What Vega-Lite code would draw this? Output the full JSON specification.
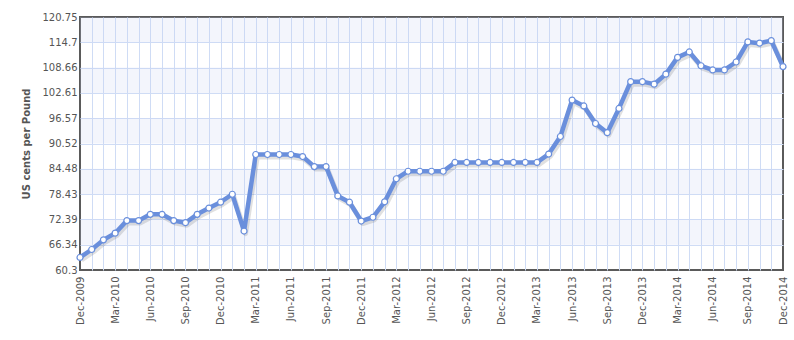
{
  "$schema": "https://vega.github.io/schema/vega-lite/v6.json",
  "autosize": "none",
  "width": 703,
  "height": 253,
  "padding": {"left": 80, "top": 17, "right": 11, "bottom": 70},
  "background": "#ffffff",
  "config": {
    "view": {"stroke": "#5a5a5a", "strokeWidth": 2},
    "axis": {"labelFont": "DejaVu Sans", "labelFontSize": 10, "labelColor": "#555555", "titleFont": "DejaVu Sans", "titleColor": "#555555"},
    "axisY": {"labelOverlap": false}
  },
  "datasets": {
    "bands": [
      {"lo": 66.34, "hi": 72.39},
      {"lo": 78.43, "hi": 84.48},
      {"lo": 90.52, "hi": 96.57},
      {"lo": 102.61, "hi": 108.66},
      {"lo": 114.7, "hi": 120.75}
    ],
    "prices": [
      {"month": "Dec-2009", "price": 63.3},
      {"month": "Jan-2010", "price": 65.2},
      {"month": "Feb-2010", "price": 67.5},
      {"month": "Mar-2010", "price": 69.1},
      {"month": "Apr-2010", "price": 72.1},
      {"month": "May-2010", "price": 72.1},
      {"month": "Jun-2010", "price": 73.6},
      {"month": "Jul-2010", "price": 73.6},
      {"month": "Aug-2010", "price": 72.1},
      {"month": "Sep-2010", "price": 71.6},
      {"month": "Oct-2010", "price": 73.6},
      {"month": "Nov-2010", "price": 75.1},
      {"month": "Dec-2010", "price": 76.5},
      {"month": "Jan-2011", "price": 78.4},
      {"month": "Feb-2011", "price": 69.6},
      {"month": "Mar-2011", "price": 87.9},
      {"month": "Apr-2011", "price": 87.9},
      {"month": "May-2011", "price": 87.9},
      {"month": "Jun-2011", "price": 87.9},
      {"month": "Jul-2011", "price": 87.4},
      {"month": "Aug-2011", "price": 85.0},
      {"month": "Sep-2011", "price": 85.0},
      {"month": "Oct-2011", "price": 78.0},
      {"month": "Nov-2011", "price": 76.5},
      {"month": "Dec-2011", "price": 72.0},
      {"month": "Jan-2012", "price": 72.9},
      {"month": "Feb-2012", "price": 76.6},
      {"month": "Mar-2012", "price": 82.1},
      {"month": "Apr-2012", "price": 83.9},
      {"month": "May-2012", "price": 83.9},
      {"month": "Jun-2012", "price": 83.9},
      {"month": "Jul-2012", "price": 83.9},
      {"month": "Aug-2012", "price": 86.0},
      {"month": "Sep-2012", "price": 86.0},
      {"month": "Oct-2012", "price": 86.0},
      {"month": "Nov-2012", "price": 86.0},
      {"month": "Dec-2012", "price": 86.0},
      {"month": "Jan-2013", "price": 86.0},
      {"month": "Feb-2013", "price": 86.0},
      {"month": "Mar-2013", "price": 86.0},
      {"month": "Apr-2013", "price": 88.0},
      {"month": "May-2013", "price": 92.2},
      {"month": "Jun-2013", "price": 100.9},
      {"month": "Jul-2013", "price": 99.5},
      {"month": "Aug-2013", "price": 95.3},
      {"month": "Sep-2013", "price": 93.1},
      {"month": "Oct-2013", "price": 98.9},
      {"month": "Nov-2013", "price": 105.3},
      {"month": "Dec-2013", "price": 105.3},
      {"month": "Jan-2014", "price": 104.7},
      {"month": "Feb-2014", "price": 107.1},
      {"month": "Mar-2014", "price": 111.1},
      {"month": "Apr-2014", "price": 112.4},
      {"month": "May-2014", "price": 109.1},
      {"month": "Jun-2014", "price": 108.1},
      {"month": "Jul-2014", "price": 108.1},
      {"month": "Aug-2014", "price": 110.0},
      {"month": "Sep-2014", "price": 114.8},
      {"month": "Oct-2014", "price": 114.5},
      {"month": "Nov-2014", "price": 115.1},
      {"month": "Dec-2014", "price": 108.9}
    ]
  },
  "layer": [
    {
      "data": {"name": "bands"},
      "mark": {"type": "rect", "fill": "#c4ccf0", "fillOpacity": 0.2},
      "encoding": {
        "x": {"value": 0},
        "x2": {"value": "width"},
        "y": {
          "field": "lo", "type": "quantitative",
          "scale": {"domain": [60.3, 120.75], "nice": false, "zero": false},
          "axis": {
            "title": "US cents per Pound", "titleFontWeight": "bold", "titleFontSize": 10,
            "titlePadding": 11, "ticks": false, "domain": false, "format": ".2~f",
            "labelOverlap": false, "labelFlush": false, "labelBound": false,
            "values": [60.3, 66.34, 72.39, 78.43, 84.48, 90.52, 96.57, 102.61, 108.66, 114.7, 120.75],
            "grid": true, "gridColor": "#cfdcf5", "labelPadding": 3,
            "gridOpacity": {"condition": {"test": "datum.value <= 60.31 || datum.value >= 120.74", "value": 0}, "value": 1}
          }
        },
        "y2": {"field": "hi"}
      }
    },
    {
      "data": {"name": "prices"},
      "encoding": {
        "x": {
          "field": "month", "type": "ordinal", "sort": null,
          "scale": {"type": "point", "padding": 0},
          "axis": {
            "title": null, "labelAngle": -90, "ticks": false, "domain": false,
            "grid": true, "gridColor": "#cfdcf5", "gridWidth": 1, "labelPadding": 6,
            "labelBaseline": "middle", "labelAlign": "right", "labelOverlap": false,
            "gridOpacity": {"condition": {"test": "datum.value == 'Dec-2009' || datum.value == 'Dec-2014'", "value": 0}, "value": 1},
            "labelExpr": "indexof(['Dec','Mar','Jun','Sep'], slice(datum.label, 0, 3)) >= 0 ? datum.label : ''"
          }
        },
        "y": {
          "field": "price", "type": "quantitative",
          "axis": {
            "title": "US cents per Pound", "titleFontWeight": "bold", "titleFontSize": 10,
            "titlePadding": 11, "ticks": false, "domain": false, "format": ".2~f",
            "labelOverlap": false, "labelFlush": false, "labelBound": false,
            "values": [60.3, 66.34, 72.39, 78.43, 84.48, 90.52, 96.57, 102.61, 108.66, 114.7, 120.75],
            "grid": true, "gridColor": "#cfdcf5", "labelPadding": 3,
            "gridOpacity": {"condition": {"test": "datum.value <= 60.31 || datum.value >= 120.74", "value": 0}, "value": 1}
          }
        }
      },
      "layer": [
        {
          "mark": {"type": "line", "stroke": "#000000", "strokeOpacity": 0.12, "strokeWidth": 5, "xOffset": 1.5, "yOffset": 2.5, "strokeJoin": "round"}
        },
        {
          "mark": {"type": "line", "stroke": "#6a8fdc", "strokeWidth": 4.5, "strokeJoin": "round"}
        },
        {
          "mark": {"type": "point", "filled": true, "fill": "#ffffff", "stroke": "#6a8fdc", "strokeWidth": 1.2, "size": 36, "opacity": 1}
        }
      ]
    }
  ]
}
